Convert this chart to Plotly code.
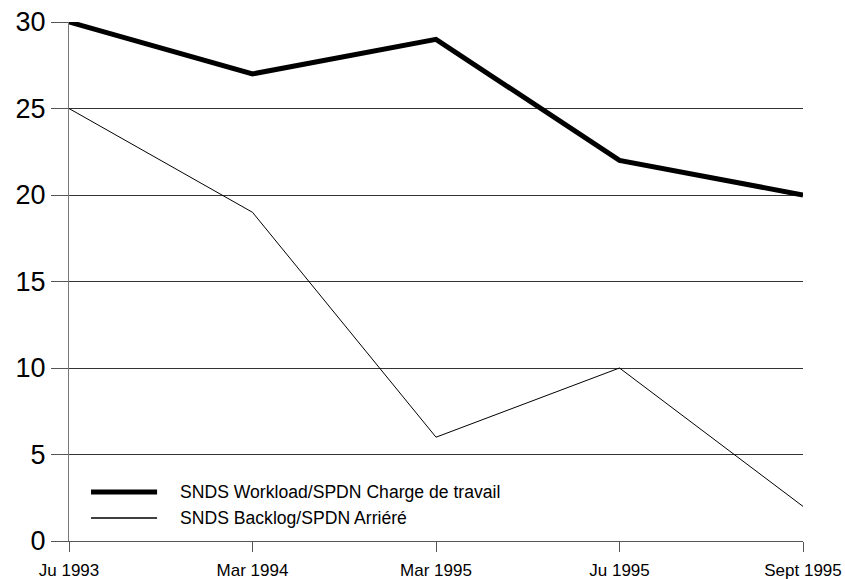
import plotly.graph_objects as go

categories = ["Ju 1993", "Mar 1994", "Mar 1995", "Ju 1995", "Sept 1995"]
workload = [30, 27, 29, 22, 20]
backlog = [25, 19, 6, 10, 2]
series_names = ["SNDS Workload/SPDN Charge de travail", "SNDS Backlog/SPDN Arriéré"]
y_ticks = [0, 5, 10, 15, 20, 25, 30]

FONT = "Arial, Liberation Sans, Helvetica, sans-serif"

fig = go.Figure()
fig.add_trace(go.Scatter(x=list(range(len(categories))), y=workload, mode="lines",
                         line=dict(color="black", width=5), name=series_names[0],
                         showlegend=False))
fig.add_trace(go.Scatter(x=list(range(len(categories))), y=backlog, mode="lines",
                         line=dict(color="black", width=1), name=series_names[1],
                         showlegend=False))

# manual legend (line samples + labels)
legend_rows = [(0.0944, 5, series_names[0]), (0.0443, 1.5, series_names[1])]
for yy, w, label in legend_rows:
    fig.add_shape(type="line", xref="paper", yref="paper", x0=0.030, x1=0.120,
                  y0=yy, y1=yy, line=dict(color="black", width=w))
    fig.add_annotation(xref="paper", yref="paper", x=0.151, y=yy, text=label,
                       showarrow=False, xanchor="left", yanchor="middle",
                       xshift=-2,
                       font=dict(family=FONT, size=17.6, color="black"))

fig.update_layout(
    width=845, height=579,
    margin=dict(l=69, r=42, t=22, b=38),
    paper_bgcolor="white", plot_bgcolor="white",
    font=dict(family=FONT, color="black"),
    showlegend=False,
    xaxis=dict(
        tickmode="array", tickvals=list(range(len(categories))), ticktext=categories,
        range=[0, len(categories) - 1], showgrid=False, zeroline=False,
        showline=True, linecolor="#555", linewidth=1, automargin=False,
        ticks="outside", ticklen=10, tickcolor="#555", ticklabelstandoff=4,
        tickfont=dict(size=17, family=FONT, color="black"),
    ),
    yaxis=dict(
        tickmode="array", tickvals=y_ticks, range=[0, 30],
        showgrid=True, gridcolor="#333", gridwidth=1, zeroline=False,
        showline=True, linecolor="#777", linewidth=1, automargin=False,
        ticks="outside", ticklen=17, tickcolor="#555",
        tickfont=dict(size=27, family=FONT, color="black"),
    ),
)

# remove the default 8px page margin so the figure fills the window exactly
fig.write_html("out.html", config={"displayModeBar": False},
               post_script="document.body.style.margin='0';")
